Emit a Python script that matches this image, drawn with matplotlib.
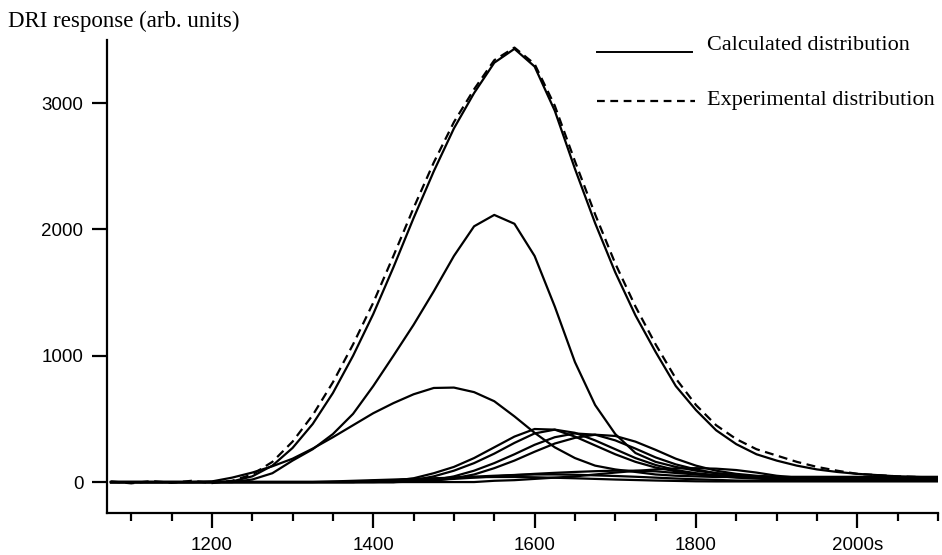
import matplotlib
matplotlib.use("Agg")
import matplotlib.pyplot as plt
from matplotlib.lines import Line2D
from matplotlib.ticker import FixedLocator, MultipleLocator

# elution time grid (s)
time_s = [1075, 1100, 1125, 1150, 1175, 1200, 1225, 1250, 1275, 1300, 1325, 1350,
          1375, 1400, 1425, 1450, 1475, 1500, 1525, 1550, 1575, 1600, 1625, 1650,
          1675, 1700, 1725, 1750, 1775, 1800, 1825, 1850, 1875, 1900, 1925, 1950,
          1975, 2000, 2025, 2050, 2075, 2100]

calculated_total = [0, 0, 0, 0, 0, 0, 5, 45, 130, 270, 460, 705,
                    1000, 1330, 1700, 2090, 2460, 2800, 3080, 3320, 3430, 3290, 2940, 2480,
                    2050, 1660, 1320, 1030, 760, 570, 410, 300, 220, 170, 130, 100,
                    80, 65, 55, 45, 40, 35]

experimental = [5, -10, 8, -6, 10, -8, 10, 60, 160, 320, 530, 790,
                1090, 1420, 1790, 2170, 2530, 2850, 3110, 3340, 3440, 3310, 2980, 2540,
                2120, 1730, 1390, 1090, 820, 610, 450, 340, 260, 210, 160, 120,
                90, 65, 55, 45, 40, 35]

comp_major = [0, 0, 0, 0, 0, 0, 0, 20, 70, 170, 260, 380,
              540, 760, 1000, 1245, 1510, 1790, 2025, 2115, 2045, 1790, 1390, 950,
              610, 380, 230, 160, 120, 90, 70, 55, 45, 40, 35, 30,
              30, 30, 30, 30, 30, 30]

comp_740 = [0, 0, 0, 0, 0, 5, 35, 75, 125, 185, 265, 355,
            450, 545, 625, 695, 745, 748, 712, 640, 520, 390, 275, 190,
            130, 100, 80, 60, 50, 45, 40, 40, 40, 40, 40, 40,
            40, 40, 40, 40, 40, 40]

comp_c1 = [0, 0, 0, 0, 0, 0, 0, 0, 0, 0, 0, 0,
           0, 3, 10, 30, 70, 120, 190, 275, 360, 420, 415, 360,
           290, 220, 160, 115, 85, 65, 50, 40, 35, 30, 30, 30,
           30, 30, 30, 30, 30, 30]

comp_c2 = [0, 0, 0, 0, 0, 0, 0, 0, 0, 0, 0, 0,
           0, 0, 5, 15, 45, 90, 150, 225, 310, 385, 415, 390,
           330, 260, 190, 135, 95, 70, 55, 45, 40, 35, 35, 35,
           35, 35, 35, 35, 35, 35]

comp_c3 = [0, 0, 0, 0, 0, 0, 0, 0, 0, 0, 0, 0,
           0, 0, 0, 5, 15, 45, 90, 150, 220, 295, 355, 385,
           375, 330, 265, 195, 140, 100, 70, 55, 45, 40, 40, 40,
           40, 40, 40, 40, 40, 40]

comp_c4 = [0, 0, 0, 0, 0, 0, 0, 0, 0, 0, 0, 0,
           0, 0, 0, 3, 10, 30, 60, 110, 170, 240, 305, 350,
           375, 365, 320, 255, 185, 130, 90, 65, 50, 40, 40, 40,
           40, 40, 40, 40, 40, 40]

comp_s1 = [0, 0, 0, 0, 0, 0, 0, 0, 0, 0, 0, 0,
           0, 0, 0, 0, 0, 0, 0, 10, 15, 25, 35, 45,
           60, 75, 88, 100, 108, 110, 106, 95, 75, 50, 35, 25,
           20, 20, 20, 20, 20, 20]

comp_s2 = [0, 0, 0, 0, 0, 0, 0, 0, 0, 0, 0, 0,
           0, 0, 0, 10, 17, 25, 35, 45, 55, 65, 73, 80,
           86, 90, 90, 85, 72, 60, 48, 35, 27, 20, 15, 15,
           15, 15, 15, 15, 15, 15]

comp_s3 = [0, 0, 0, 0, 0, 0, 0, 0, 0, 0, 0, 0,
           0, 10, 15, 20, 27, 35, 43, 50, 56, 60, 60, 58,
           53, 48, 42, 35, 28, 22, 17, 12, 10, 10, 10, 10,
           10, 10, 10, 10, 10, 10]

comp_s4 = [0, 0, 0, 0, 0, 0, 0, 0, 0, 0, 0, 5,
           10, 15, 20, 25, 30, 35, 38, 40, 40, 38, 34, 30,
           25, 20, 16, 12, 9, 6, 5, 5, 5, 5, 5, 5,
           5, 5, 5, 5, 5, 5]

components = [comp_major, comp_740, comp_c1, comp_c2, comp_c3, comp_c4,
              comp_s1, comp_s2, comp_s3, comp_s4]

x_major_ticks = [1200, 1400, 1600, 1800, 2000]
x_tick_labels = ["1200", "1400", "1600", "1800", "2000s"]
y_ticks = [0, 1000, 2000, 3000]
y_label = "DRI response (arb. units)"
legend_labels = ["Calculated distribution", "Experimental distribution"]

serif = ["Liberation Serif", "DejaVu Serif"]

fig = plt.figure(figsize=(9.42, 5.55), dpi=100)
ax = fig.add_axes([107 / 942, 42 / 555, 831 / 942, 473 / 555])

lw = 1.6
for comp in components:
    ax.plot(time_s, comp, color="black", lw=lw, solid_joinstyle="round")
ax.plot(time_s, calculated_total, color="black", lw=lw, solid_joinstyle="round")
ax.plot(time_s, experimental, color="black", lw=lw, linestyle=(0, (4, 2.5)))

ax.set_xlim(1070, 2100)
ax.set_ylim(-245, 3500)

for side in ["top", "right"]:
    ax.spines[side].set_visible(False)
for side in ["left", "bottom"]:
    ax.spines[side].set_linewidth(1.6)

ax.xaxis.set_major_locator(FixedLocator(x_major_ticks))
ax.set_xticklabels(x_tick_labels)
ax.xaxis.set_minor_locator(MultipleLocator(50))
ax.yaxis.set_major_locator(FixedLocator(y_ticks))
ax.set_yticklabels([str(v) for v in y_ticks])

ax.tick_params(axis="both", which="major", direction="out", length=11, width=1.6,
               labelsize=13.5, pad=6)
ax.tick_params(axis="x", which="minor", direction="out", length=6, width=1.6)
for lab in ax.get_xticklabels() + ax.get_yticklabels():
    lab.set_family(["Liberation Sans", "DejaVu Sans"])

fig.text(8 / 942, 1 - 21 / 555, y_label, ha="left", va="center",
         fontsize=16.5, family=serif)

# legend drawn in figure coordinates
fig.add_artist(Line2D([597 / 942, 692 / 942], [1 - 52 / 555, 1 - 52 / 555],
                      color="black", lw=1.4))
fig.add_artist(Line2D([597 / 942, 695 / 942], [1 - 101 / 555, 1 - 101 / 555],
                      color="black", lw=1.6, linestyle=(0, (3.5, 2.5))))
fig.text(707 / 942, 1 - 46 / 555, legend_labels[0], ha="left", va="center",
         fontsize=16, family=serif)
fig.text(707 / 942, 1 - 101 / 555, legend_labels[1], ha="left", va="center",
         fontsize=16, family=serif)

fig.savefig("out.png", dpi=100)
